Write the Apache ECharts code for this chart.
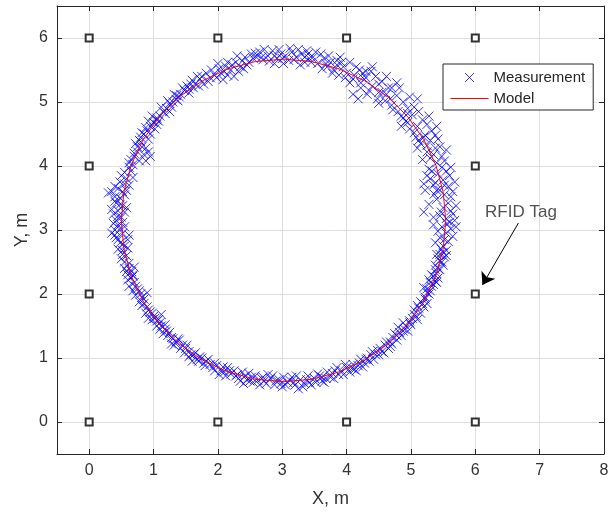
<!DOCTYPE html>
<html>
<head>
<meta charset="utf-8">
<script src="https://cdn.jsdelivr.net/npm/echarts@6/dist/echarts.min.js"></script>
<style>
html,body{margin:0;padding:0;background:#fff;}
#chart{width:616px;height:516px;}
</style>
</head>
<body>
<div id="chart"></div>
<script>
// ---- data ----
var measurement = [
  [5.55,3.18],[5.45,3.22],[5.62,3.30],[5.50,3.35],[5.58,3.42],[5.40,3.48],[5.52,3.55],[5.65,3.25],[5.20,3.28],
  [5.50,2.75],[5.58,2.82],[5.45,2.88],[5.55,2.95],[5.62,3.02],[5.48,3.05],[5.56,3.10],[5.42,2.98],
  [5.45,3.62],[5.35,3.70],[5.58,3.68],[5.30,3.80],[5.50,3.78],[5.42,3.88],[5.60,3.85],[5.28,3.95],[5.48,3.98],[5.38,3.74],[5.55,3.92],
  [5.40,4.05],[5.30,4.12],[5.48,4.15],[5.25,4.22],[5.38,4.28],[5.15,4.35],[5.30,4.40],[5.45,4.30],[5.22,4.48],
  [5.20,4.45],[5.05,4.52],[5.32,4.55],[5.10,4.62],[4.95,4.68],[5.18,4.72],[5.02,4.80],[4.88,4.75],[5.25,4.65],
  [4.95,4.82],[4.80,4.85],[5.05,4.92],[4.70,4.95],[4.88,5.00],[4.60,5.02],[4.78,5.10],[4.55,5.15],[4.92,4.70],
  [4.62,5.12],[4.50,5.15],[4.70,5.22],[4.40,5.25],[4.55,5.32],[4.30,5.38],[4.45,5.40],[4.22,5.30],[4.35,5.18],[4.18,5.05],
  [4.25,5.38],[4.12,5.42],[4.30,5.48],[4.00,5.45],[4.15,5.55],[3.95,5.55],[3.88,5.42],[4.05,5.30],[3.92,5.62],
  [3.85,5.58],[3.75,5.62],[3.80,5.50],[3.65,5.68],[3.55,5.60],[3.60,5.75],[3.48,5.70],[3.70,5.55],
  [3.42,5.68],[3.35,5.62],[3.30,5.75],[3.22,5.70],[3.15,5.78],[3.10,5.65],[3.05,5.72],[3.38,5.80],
  [2.98,5.75],[2.92,5.68],[2.85,5.80],[2.78,5.72],[2.70,5.66],[2.65,5.78],[2.60,5.70],[2.88,5.60],
  [2.55,5.68],[2.48,5.62],[2.42,5.70],[2.35,5.55],[2.28,5.62],[2.20,5.50],[2.25,5.40],[2.40,5.52],
  [2.12,5.56],[2.05,5.45],[2.00,5.60],[1.95,5.42],[1.88,5.38],[1.82,5.45],[1.78,5.28],[2.08,5.35],
  [1.72,5.36],[1.65,5.28],[1.60,5.34],[1.55,5.20],[1.48,5.18],[1.42,5.12],[1.38,5.02],[1.62,5.22],
  [1.36,5.10],[1.30,5.00],[1.25,4.98],[1.20,4.90],[1.15,4.85],[1.10,4.78],[1.28,4.92],[1.05,4.72],
  [1.05,4.75],[1.00,4.68],[0.95,4.62],[0.90,4.55],[0.85,4.50],[0.80,4.45],[1.02,4.58],[0.92,4.42],
  [0.80,4.38],[0.75,4.30],[0.88,4.28],[0.70,4.20],[0.85,4.18],[0.92,4.22],[0.65,4.10],[0.78,4.08],[0.68,4.02],
  [0.62,3.98],[0.55,3.90],[0.58,3.80],[0.48,3.75],[0.62,3.70],[0.45,3.65],[0.52,3.60],[0.30,3.58],[0.40,3.52],
  [0.48,3.50],[0.42,3.42],[0.52,3.38],[0.45,3.30],[0.38,3.25],[0.50,3.20],[0.42,3.15],[0.55,3.28],
  [0.45,3.08],[0.40,3.00],[0.52,2.95],[0.42,2.88],[0.48,2.80],[0.55,2.75],[0.40,2.92],[0.60,2.85],
  [0.52,2.68],[0.58,2.60],[0.50,2.55],[0.62,2.48],[0.55,2.40],[0.66,2.35],[0.60,2.30],[0.70,2.42],
  [0.65,2.25],[0.70,2.18],[0.62,2.12],[0.75,2.08],[0.80,2.00],[0.72,1.98],[0.85,1.92],[0.90,2.02],
  [0.85,1.85],[0.90,1.80],[0.95,1.72],[0.88,1.70],[1.00,1.65],[1.05,1.58],[1.10,1.55],[0.98,1.60],[1.12,1.68],
  [1.12,1.50],[1.18,1.45],[1.15,1.38],[1.25,1.40],[1.30,1.30],[1.35,1.25],[1.40,1.28],[1.28,1.22],
  [1.45,1.20],[1.50,1.15],[1.55,1.10],[1.48,1.08],[1.62,1.05],[1.68,0.98],[1.72,1.02],[1.60,0.95],[1.78,0.92],
  [1.82,0.95],[1.88,0.90],[1.92,0.85],[1.98,0.88],[2.05,0.80],[2.10,0.78],[2.15,0.85],[2.02,0.74],
  [2.20,0.75],[2.28,0.72],[2.32,0.68],[2.38,0.78],[2.45,0.66],[2.52,0.70],[2.55,0.62],[2.40,0.60],
  [2.62,0.65],[2.70,0.70],[2.75,0.60],[2.82,0.68],[2.88,0.58],[2.95,0.66],[3.00,0.55],[2.78,0.74],
  [3.08,0.62],[3.15,0.70],[3.20,0.58],[3.28,0.66],[3.35,0.60],[3.40,0.72],[3.45,0.58],[3.25,0.52],
  [3.50,0.68],[3.58,0.72],[3.62,0.64],[3.70,0.78],[3.75,0.70],[3.82,0.80],[3.88,0.74],[3.65,0.62],
  [3.92,0.80],[4.00,0.85],[4.05,0.78],[4.10,0.90],[4.18,0.88],[4.22,0.98],[4.28,0.92],[4.15,0.80],
  [4.32,1.00],[4.38,1.05],[4.42,0.98],[4.48,1.12],[4.55,1.10],[4.60,1.20],[4.65,1.15],[4.50,1.05],
  [4.68,1.25],[4.72,1.32],[4.78,1.28],[4.82,1.40],[4.88,1.42],[4.92,1.50],[4.98,1.55],[4.80,1.48],
  [4.98,1.58],[5.02,1.62],[5.08,1.65],[5.05,1.75],[5.12,1.78],[5.18,1.85],[5.22,1.92],[5.15,1.70],
  [5.22,1.95],[5.28,2.00],[5.25,2.08],[5.32,2.12],[5.38,2.20],[5.35,2.28],[5.42,2.25],[5.30,2.18],
  [5.40,2.32],[5.45,2.38],[5.38,2.45],[5.48,2.50],[5.52,2.58],[5.45,2.62],[5.55,2.68],[5.42,2.55],
  [5.35,3.20],[5.70,3.38],[5.28,3.40],[5.62,3.52],[5.47,3.28],[5.36,3.56],[5.68,3.15],
  [5.38,2.80],[5.65,2.90],[5.52,2.85],[5.35,3.08],[5.60,3.12],[5.70,3.05],[5.47,2.70],
  [5.22,3.62],[5.65,3.60],[5.40,3.62],[5.25,3.85],[5.68,3.75],[5.33,3.92],[5.52,3.70],[5.20,3.72],[5.62,3.98],
  [5.52,4.08],[5.18,4.10],[5.35,4.18],[5.55,4.25],[5.10,4.28],[5.42,4.42],[5.25,4.32],[5.08,4.45],
  [5.38,4.48],[5.12,4.40],[4.98,4.58],[5.28,4.78],[5.12,4.85],[4.85,4.62],[5.40,4.62],[4.95,4.90],
  [5.10,5.05],[4.85,4.78],[4.72,4.88],[4.98,5.08],[4.65,5.22],[4.82,5.22],[4.50,4.98],[4.68,5.05],
  [4.78,5.30],[4.48,5.05],[4.62,5.40],[4.38,5.48],[4.25,5.45],[4.50,5.28],[4.32,5.12],[4.10,5.12],
  [4.40,5.55],[4.20,5.50],[4.05,5.62],[4.10,5.36],[3.98,5.38],[3.85,5.65],[4.22,5.22],
  [3.90,5.70],[3.78,5.45],[3.68,5.60],[3.62,5.52],[3.52,5.78],[3.45,5.62],[3.72,5.72],
  [3.40,5.75],[3.28,5.58],[3.25,5.82],[3.18,5.66],[3.12,5.84],[3.02,5.60],[3.35,5.70],
  [2.95,5.82],[2.88,5.72],[2.80,5.64],[2.72,5.82],[2.68,5.70],[2.58,5.76],[3.00,5.68],
  [2.52,5.75],[2.45,5.58],[2.38,5.64],[2.30,5.72],[2.22,5.58],[2.15,5.62],[2.32,5.48],
  [2.10,5.48],[2.02,5.52],[1.98,5.38],[1.90,5.50],[1.85,5.32],[1.75,5.40],[2.15,5.42],
  [1.70,5.25],[1.68,5.40],[1.58,5.28],[1.52,5.25],[1.45,5.22],[1.40,5.08],[1.55,5.14],
  [1.35,5.04],[1.32,5.12],[1.22,5.02],[1.18,4.82],[1.12,4.92],[1.08,4.70],[1.25,4.85],
  [1.05,4.65],[0.98,4.78],[0.92,4.70],[0.88,4.60],[0.82,4.52],[0.78,4.40],[0.95,4.50],
  [0.82,4.30],[0.72,4.35],[0.70,4.15],[0.95,4.15],[0.62,4.05],[0.75,4.22],[0.88,4.08],
  [0.65,3.92],[0.50,3.85],[0.68,3.82],[0.55,3.72],[0.40,3.68],[0.58,3.62],[0.35,3.60],
  [0.55,3.55],[0.40,3.45],[0.48,3.40],[0.58,3.35],[0.35,3.32],[0.45,3.22],[0.52,3.12],
  [0.38,3.10],[0.48,3.02],[0.55,3.05],[0.35,2.95],[0.45,2.85],[0.52,2.78],[0.62,2.92],
  [0.45,2.70],[0.60,2.72],[0.52,2.62],[0.55,2.50],[0.62,2.40],[0.58,2.35],[0.68,2.30],
  [0.60,2.22],[0.68,2.28],[0.72,2.12],[0.78,2.05],[0.68,2.05],[0.82,1.95],[0.78,1.88],
  [0.82,1.82],[0.92,1.75],[0.98,1.70],[1.02,1.62],[1.08,1.60],[0.92,1.62],[1.05,1.50],
  [1.10,1.45],[1.20,1.42],[1.22,1.35],[1.28,1.32],[1.32,1.20],[1.38,1.30],[1.18,1.52],
  [1.42,1.15],[1.52,1.20],[1.58,1.05],[1.55,1.02],[1.65,1.08],[1.70,0.95],[1.75,1.00],
  [1.80,0.88],[1.85,0.98],[1.95,0.92],[1.95,0.80],[2.08,0.86],[2.12,0.72],[2.18,0.80],
  [2.25,0.80],[2.30,0.74],[2.35,0.64],[2.42,0.72],[2.50,0.64],[2.48,0.76],[2.58,0.72],
  [2.65,0.58],[2.68,0.68],[2.72,0.64],[2.85,0.72],[2.90,0.64],[2.98,0.60],[3.02,0.70],
  [3.05,0.58],[3.12,0.65],[3.18,0.62],[3.22,0.72],[3.32,0.55],[3.38,0.66],[3.42,0.62],
  [3.52,0.62],[3.55,0.75],[3.62,0.70],[3.68,0.68],[3.78,0.76],[3.80,0.68],[3.85,0.85],
  [3.95,0.74],[3.98,0.90],[4.08,0.84],[4.12,0.82],[4.20,0.92],[4.25,0.86],[4.30,0.98],
  [4.35,0.95],[4.40,1.10],[4.45,1.05],[4.52,1.15],[4.58,1.08],[4.62,1.25],[4.68,1.18],
  [4.70,1.22],[4.75,1.38],[4.78,1.35],[4.85,1.35],[4.90,1.45],[4.95,1.42],[4.88,1.55],
  [5.00,1.52],[5.05,1.68],[5.10,1.60],[5.10,1.82],[5.15,1.88],[5.20,1.80],[5.25,1.85],
  [5.25,2.02],[5.20,2.10],[5.30,2.05],[5.35,2.15],[5.28,2.22],[5.40,2.18],[5.32,2.30],
  [5.42,2.40],[5.38,2.38],[5.50,2.45],[5.45,2.52],[5.40,2.62],[5.55,2.60],[5.50,2.65]
];
var model = [
  [5.540,3.150],[5.502,3.588],[5.388,4.012],[5.202,4.410],[4.950,4.770],[4.640,5.080],
  [4.280,5.332],[3.882,5.518],[3.458,5.632],[3.020,5.670],[2.582,5.632],[2.158,5.518],
  [1.760,5.332],[1.400,5.080],[1.090,4.770],[0.838,4.410],[0.652,4.012],[0.538,3.588],
  [0.500,3.150],[0.538,2.712],[0.652,2.288],[0.838,1.890],[1.090,1.530],[1.400,1.220],
  [1.760,0.968],[2.158,0.782],[2.582,0.668],[3.020,0.630],[3.458,0.668],[3.882,0.782],
  [4.280,0.968],[4.640,1.220],[4.950,1.530],[5.202,1.890],[5.388,2.288],[5.502,2.712],
  [5.540,3.150]
];
var tags = [
  [0,0],[2,0],[4,0],[6,0],
  [0,2],[6,2],[0,4],[6,4],
  [0,6],[2,6],[4,6],[6,6]
];
var annotationText = 'RFID Tag';
var annotationTextPos = [6.71, 3.28];
var arrowFrom = [6.67, 3.11];
var arrowTo = [6.11, 2.14];
var xLabel = 'X, m';
var yLabel = 'Y, m';
var seriesNames = ['Measurement', 'Model'];

// ---- chart ----
var FONT = '"Liberation Sans", Arial, Helvetica, sans-serif';
var AX = '#262626';
var chart = echarts.init(document.getElementById('chart'), null, {renderer: 'canvas'});
var xMark = 'path://M0,0L10,10M10,0L0,10';
var legendX = 'path://M0,0M38,14M14.5,2.5L23.5,11.5M23.5,2.5L14.5,11.5';
function intFmt(v){ return Math.abs(v - Math.round(v)) < 1e-9 ? String(Math.round(v)) : ''; }

var baseAxis = {
  type: 'value',
  axisLine: {show: true, onZero: false, lineStyle: {color: AX, width: 1}},
  axisTick: {show: true, inside: true, length: 5, lineStyle: {color: AX}},
  splitLine: {show: true, lineStyle: {color: '#dedede', width: 1}},
  axisLabel: {show: true, color: '#333', fontSize: 16, fontFamily: FONT, formatter: intFmt, margin: 9}
};
function ax(extra){ return Object.assign({}, JSON.parse(JSON.stringify(baseAxis)), extra, {axisLabel: Object.assign({}, baseAxis.axisLabel, extra.axisLabel || {})}); }

var option = {
  animation: false,
  backgroundColor: '#fff',
  grid: {left: 57, right: 12, top: 6, bottom: 62, containLabel: false},
  legend: {
    data: [
      {name: seriesNames[0], icon: legendX,
       itemStyle: {color: 'rgba(0,0,0,0)', borderColor: '#0000ff', borderWidth: 1}},
      {name: seriesNames[1],
       itemStyle: {color: 'rgba(0,0,0,0)', borderColor: 'rgba(0,0,0,0)', borderWidth: 0, opacity: 0},
       lineStyle: {color: '#ff0000', width: 1}}
    ],
    orient: 'vertical',
    left: 443, top: 64,
    itemWidth: 38, itemHeight: 14, itemGap: 6, itemTextGap: 5,
    padding: [6, 8, 4, 7],
    backgroundColor: '#fff',
    borderColor: '#262626', borderWidth: 1, borderRadius: 0,
    textStyle: {fontSize: 15, color: '#262626', fontFamily: FONT}
  },
  xAxis: [
    ax({min: -0.5, max: 8, splitNumber: 8, position: 'bottom',
        name: xLabel, nameLocation: 'middle', nameGap: 36, nameMoveOverlap: false,
        nameTextStyle: {fontSize: 18, color: '#333', fontFamily: FONT}}),
    ax({min: -0.5, max: 8, splitNumber: 8, position: 'top', splitLine: {show: false}, axisLabel: {show: false}})
  ],
  yAxis: [
    ax({min: -0.5, max: 6.5, splitNumber: 7, position: 'left',
        name: yLabel, nameLocation: 'middle', nameGap: 26, nameRotate: 90, nameMoveOverlap: false,
        nameTextStyle: {fontSize: 18, color: '#333', fontFamily: FONT}}),
    ax({min: -0.5, max: 6.5, splitNumber: 7, position: 'right', splitLine: {show: false}, axisLabel: {show: false}})
  ],
  series: [
    {
      name: seriesNames[0], type: 'scatter', data: measurement,
      symbol: xMark, symbolSize: 9, z: 2,
      itemStyle: {color: 'rgba(0,0,0,0)', borderColor: '#0000ff', borderWidth: 1},
      emphasis: {disabled: true}
    },
    {
      name: seriesNames[1], type: 'line', data: model,
      symbol: 'none', smooth: false, z: 3,
      lineStyle: {color: '#ff0000', width: 1},
      itemStyle: {color: '#ff0000'}
    },
    {
      name: 'tags', type: 'scatter', data: tags,
      symbol: 'rect', symbolSize: 7, z: 4,
      itemStyle: {color: '#ffffff', borderColor: '#000000', borderWidth: 2},
      markLine: {
        silent: true, symbol: ['none', 'arrow'], symbolSize: 12,
        lineStyle: {color: '#000', width: 1, type: 'solid'},
        label: {show: false},
        data: [[{coord: arrowFrom}, {coord: arrowTo}]]
      }
    },
    {
      name: 'annotation', type: 'scatter', data: [annotationTextPos],
      symbolSize: 1, z: 5, itemStyle: {color: 'rgba(0,0,0,0)'},
      label: {show: true, position: 'inside', formatter: annotationText,
              fontSize: 17, color: '#262626', fontFamily: FONT}
    }
  ]
};
chart.setOption(option);
</script>
</body>
</html>
